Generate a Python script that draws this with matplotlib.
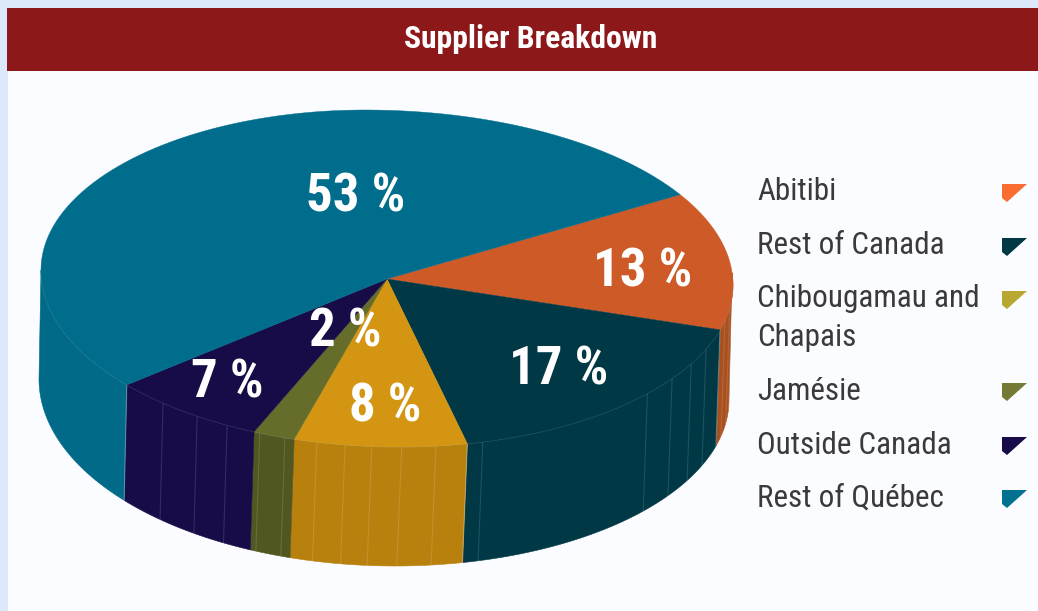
import numpy as np
import matplotlib
matplotlib.use("Agg")
import matplotlib.pyplot as plt
from matplotlib.patches import Rectangle, Polygon
from matplotlib import font_manager as fm

title = "Supplier Breakdown"
categories = ["Abitibi", "Rest of Canada", "Chibougamau and\nChapais", "Jamésie", "Outside Canada", "Rest of Québec"]
labels = ["13 %", "17 %", "8 %", "2 %", "7 %", "53 %"]
shares = [13.1, 17.3, 8.0, 1.9, 7.1, 52.6]
top_colors = ["#cd5a27", "#003846", "#d49612", "#666d2b", "#170c47", "#006d8d"]
wall_colors = ["#a9501f", "#003846", "#b8810e", "#525721", "#170c47", "#006a88"]
legend_colors = ["#f96c32", "#003846", "#b8a832", "#747a33", "#170c47", "#00728f"]
legend_y = [190, 244, 316, 389, 443, 496]
marker_y = [184, 238, 291, 383, 437, 490]
label_xy = [(643, 272), (559, 370), (385, 407), (345, 332), (227, 383), (356, 197)]
rib_angles = [-131.3, -124.4, -118.8, -113.0, -108.7, -103.4, -98.8, -94.5, -89.7, -83.8,
              -75.6, -42.0, -35.2, -29.0, -23.2, -12.6, -8.0, -3.0]

avail = {f.name for f in fm.fontManager.ttflist}
narrow = [n for n in ["Liberation Sans Narrow", "Roboto Condensed", "Liberation Sans"] if n in avail][0]

fig = plt.figure(figsize=(10.38, 6.11), dpi=100, facecolor="#dbe9fa")
ax = fig.add_axes([0, 0, 1, 1])
ax.set_xlim(0, 1038)
ax.set_ylim(611, 0)
ax.axis("off")

ax.add_patch(Rectangle((8, 71), 1030, 540, fc="#fbfcff", ec="none"))
ax.add_patch(Rectangle((7, 8), 1031, 63, fc="#8d181a", ec="none"))
ax.text(531, 39, title, color="white", fontsize=22.8, fontweight="bold", family=narrow, ha="center", va="center")

CX, CY = 387, 279


def top(t):
    """Rim of the top face, slightly distorted by the chart's perspective."""
    r = np.radians(t)
    c, s = np.cos(r), np.sin(r)
    if s >= 0:
        if c >= 0:
            return 365 + 368 * c, 285 - 175 * s
        return 365 + 324 * c, 270 - 160 * s
    if c >= 0:
        return 400 + 333 * c, 285 - 162 * s
    return 400 + 359 * c, 270 - 177 * s


def bottom(t):
    r = np.radians(t)
    c, s = np.cos(r), np.abs(np.sin(r))
    if c < 0:
        return 395 + 356 * c, 379 + 187 * s
    return 395 + 334 * c, 400 + 166 * s


edges = 31.1 - np.concatenate([[0], np.cumsum(shares)]) * 3.6

# side walls
for i in range(6):
    a, b = edges[i], edges[i + 1]
    lo, hi = max(b, -180), min(a, 4)
    if lo >= hi:
        lo, hi = -180, edges[5]
    ts = np.linspace(hi, lo, 80)
    pts = [top(t) for t in ts] + [bottom(min(t, 0)) for t in ts[::-1]]
    ax.add_patch(Polygon(pts, closed=True, fc=wall_colors[i], ec=wall_colors[i], lw=0.4, zorder=2))

# thin seams on the walls
for t in rib_angles:
    (x0, y0), (x1, y1) = top(t), bottom(t)
    ax.plot([x0, x1], [y0, y1], color="#ffffff", alpha=0.13, lw=0.8, zorder=3)
for t in [edges[1], edges[2], edges[5]]:
    (x0, y0), (x1, y1) = top(t), bottom(t)
    ax.plot([x0, x1], [y0, y1], color="#ffffff", alpha=0.3, lw=0.8, zorder=3)
ts = np.linspace(-180, 0, 300)
ax.plot(*zip(*[top(t) for t in ts]), color="#9fb8c4", alpha=0.35, lw=0.7, zorder=3)

# top face
for i in range(6):
    ts = np.linspace(edges[i], edges[i + 1], 160)
    pts = [(CX, CY)] + [top(t) for t in ts]
    ax.add_patch(Polygon(pts, closed=True, fc=top_colors[i], ec=top_colors[i], lw=0.3, zorder=4))

for (x, y), s in zip(label_xy, labels):
    ax.text(x, y, s, color="white", fontsize=38, fontweight="bold", family=narrow, ha="center", va="center", zorder=5)

# legend
for y, my, name, col in zip(legend_y, marker_y, categories, legend_colors):
    ax.text(757, y + 2, name, color="#3a3a3a", fontsize=22.4, family=narrow, ha="left", va="center", linespacing=1.42)
    ax.add_patch(Polygon([(1002, my), (1027, my), (1007, my + 18), (1002, my + 14)], closed=True, fc=col, ec="none"))

fig.savefig("out.png", dpi=100, facecolor=fig.get_facecolor())
